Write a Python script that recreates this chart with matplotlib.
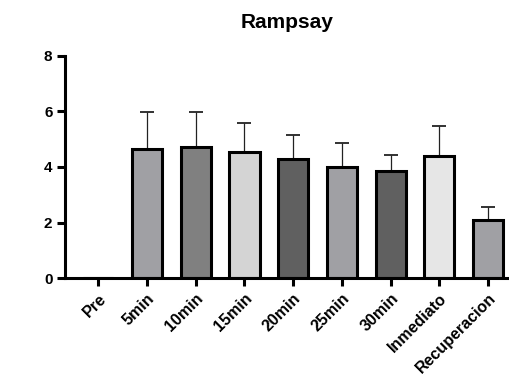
import matplotlib
matplotlib.use("Agg")
import matplotlib.pyplot as plt
import numpy as np

plt.rcParams["font.family"] = ["Liberation Sans", "DejaVu Sans"]
plt.rcParams["font.weight"] = "bold"

labels = ["Pre", "5min", "10min", "15min", "20min", "25min", "30min", "Inmediato", "Recuperacion"]
means = [0.0, 4.65, 4.73, 4.55, 4.29, 4.0, 3.85, 4.41, 2.11]
sd = [0.0, 1.31, 1.26, 1.04, 0.86, 0.87, 0.59, 1.08, 0.45]
colors = ["#ffffff", "#a0a0a4", "#808080", "#d4d4d4", "#606060", "#a0a0a4", "#606060", "#e6e6e6", "#a0a0a4"]

fig = plt.figure(figsize=(5.09, 3.84), dpi=100)
ax = fig.add_axes([0.1277, 0.2753, 0.8723, 0.5797])

x = np.arange(len(labels))
ax.bar(x, means, width=0.62, color=colors, edgecolor="black", linewidth=2.2, zorder=2)
# upper error bars only
ax.errorbar(x[1:], means[1:], yerr=[np.zeros(len(sd) - 1), sd[1:]], fmt="none",
            ecolor="#222222", elinewidth=0.9, capsize=4.8, capthick=1.3, zorder=1)

ax.set_xlim(-0.685, 8.43)
ax.set_ylim(0, 8)
ax.set_yticks([0, 2, 4, 6, 8])
ax.set_xticks(x)
ax.set_xticklabels(labels, rotation=45, ha="right", rotation_mode="anchor", fontsize=11.5, fontweight="bold")
for t in ax.get_yticklabels():
    t.set_fontsize(11)
    t.set_fontweight("bold")

for s in ["top", "right"]:
    ax.spines[s].set_visible(False)
for s in ["left", "bottom"]:
    ax.spines[s].set_linewidth(2.2)
ax.tick_params(axis="both", width=2.2, length=5.5, pad=3.5)

ax.set_title("Rampsay", fontsize=15, fontweight="bold", pad=20)

fig.savefig("out.png", dpi=100)
